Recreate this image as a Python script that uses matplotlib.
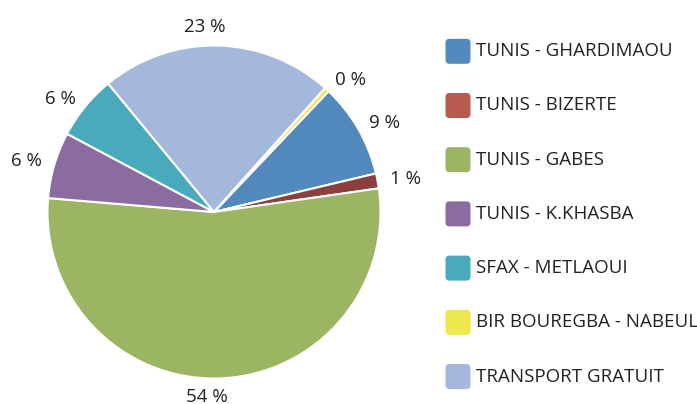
import numpy as np
import matplotlib
matplotlib.use("Agg")
import matplotlib.pyplot as plt
from matplotlib.patches import FancyBboxPatch

plt.rcParams['font.family'] = ['Open Sans', 'DejaVu Sans']

# Legend order
categories = ["TUNIS - GHARDIMAOU", "TUNIS - BIZERTE", "TUNIS - GABES", "TUNIS - K.KHASBA",
              "SFAX - METLAOUI", "BIR BOUREGBA - NABEUL", "TRANSPORT GRATUIT"]
values = [9.2, 1.45, 53.6, 6.45, 6.25, 0.45, 22.6]
legend_colors = ["#5189BC", "#B95A50", "#9BB562", "#8A6CA0", "#49A9BD", "#EDE84B", "#A3B8DB"]
slice_colors = ["#5189BC", "#8B403E", "#9BB562", "#8A6CA0", "#49A9BD", "#EDE84B", "#A3B8DB"]
# drawing order of slices (clockwise)
pie_order = [0, 1, 2, 3, 4, 6, 5]

W, H = 697, 404
fig = plt.figure(figsize=(W / 100, H / 100), dpi=100)
cx, cy, R = 214, 404 - 212, 166.5
L = 1.3
ax = fig.add_axes([(cx - R * L) / W, (cy - R * L) / H, 2 * R * L / W, 2 * R * L / H])

vals = [values[i] for i in pie_order]
cols = [slice_colors[i] for i in pie_order]
wedges, _ = ax.pie(vals, colors=cols, startangle=46.5, counterclock=False, radius=1,
                   wedgeprops=dict(edgecolor='white', linewidth=1.5))
ax.set_xlim(-L, L)
ax.set_ylim(-L, L)
ax.axis('off')

total = sum(values)
for w, i in zip(wedges, pie_order):
    ang = np.deg2rad((w.theta1 + w.theta2) / 2)
    c, s = np.cos(ang), np.sin(ang)
    pct = round(values[i] / total * 100)
    if abs(c) < 0.2:
        x = 1.11 * c - 13 / R
        y = 1.11 * s
        ha, va = 'center', 'center'
    else:
        x, y = 1.075 * c, 1.075 * s
        ha = 'left' if c > 0 else 'right'
        va = 'center'
    ax.text(x, y, f"{pct} %", ha=ha, va=va, fontsize=13.5, color='#222222')

# Legend
row0, step = 51.3, 54.2
for k, (lab, col) in enumerate(zip(categories, legend_colors)):
    yc = row0 + k * step
    size = 25
    x0 = 445.5
    y0 = H - yc - size / 2
    p = FancyBboxPatch((x0 / W, y0 / H), size / W, size / H,
                       boxstyle=f"round,pad=0,rounding_size={4 / W}",
                       transform=fig.transFigure, facecolor=col, edgecolor='none',
                       mutation_aspect=W / H)
    fig.patches.append(p)
    fig.text(476 / W, (H - yc) / H, lab, ha='left', va='center', fontsize=13.5, color='#222222')

fig.savefig("out.png", dpi=100)
